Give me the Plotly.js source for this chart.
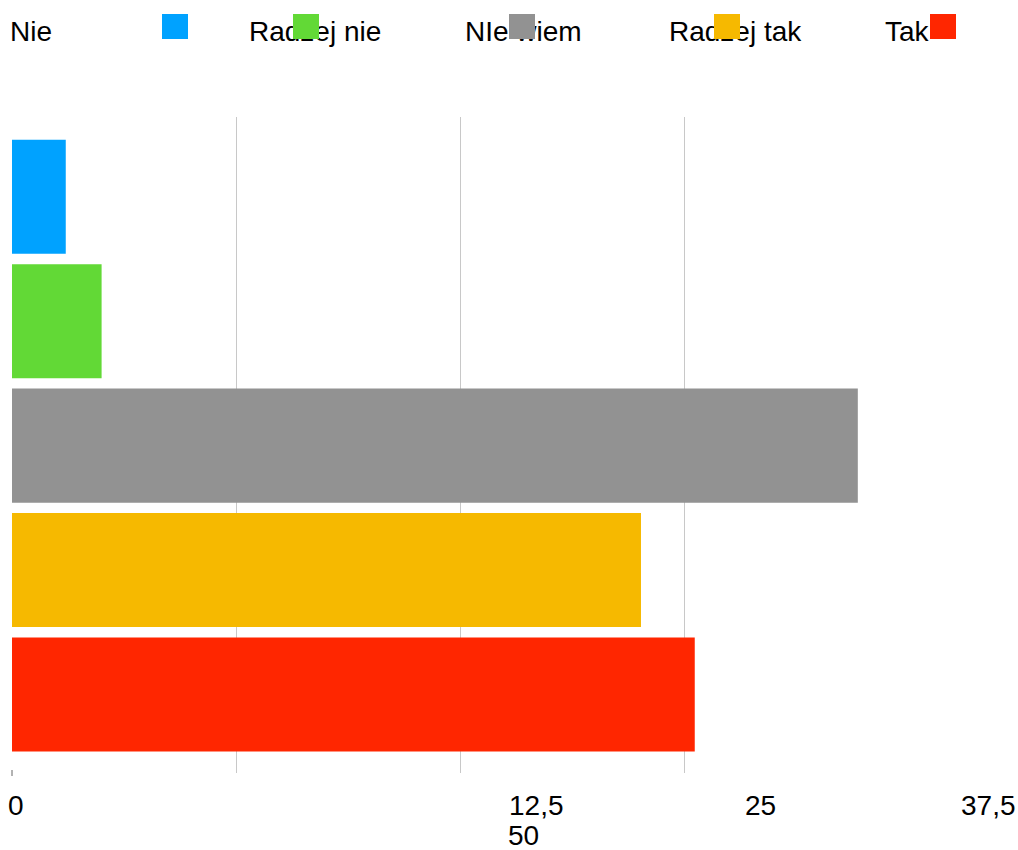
<!DOCTYPE html>
<html>
<head>
<meta charset="utf-8">
<script src="https://cdn.plot.ly/plotly-3.0.1.min.js"></script>
<style>html,body{margin:0;padding:0;background:#fff;}#chart{width:1018px;height:850px;}</style>
</head>
<body>
<div id="chart"></div>
<script>
// Data
const categories = ["Nie", "Radzej nie", "NIe wiem", "Radzej tak", "Tak"];
const values = [3.0, 5.0, 47.2, 35.1, 38.1];
const colors = ["#00a2ff", "#62d936", "#929292", "#f6b900", "#ff2600"];
const gridTicks = [12.5, 25, 37.5];
const tickLabels = ["0", "12,5", "25", "37,5", "50"];

// Layout helpers (pixel positions)
const W = 1018, H = 850;
const plotTop = 117, plotBottom = 773, plotLeft = 12;
const pxPerUnit = 224 / 12.5;
const xMax = (W - plotLeft) / pxPerUnit;
const toPY = py => (plotBottom - py) / (plotBottom - plotTop);
const toPX = px => (px - plotLeft) / (W - plotLeft);

const FONT = "Liberation Sans, Arial, sans-serif";

const trace = {
  type: "bar",
  orientation: "h",
  x: values,
  y: categories,
  marker: {color: colors, line: {width: 0}},
  hoverinfo: "x+y"
};

const annotations = [];
// legend texts and squares
const legendTextX = [8, 247, 463, 667, 883];
const legendSqX = [162, 293, 509, 714, 930];
categories.forEach((c, i) => {
  annotations.push({
    xref: "paper", yref: "paper", x: toPX(legendTextX[i]), y: toPY(31),
    xanchor: "left", yanchor: "middle", text: c, showarrow: false,
    font: {family: FONT, size: 28, color: "#000"}
  });
});
categories.forEach((c, i) => {
  annotations.push({
    xref: "paper", yref: "paper", x: toPX(legendSqX[i]), y: toPY(14),
    xanchor: "left", yanchor: "top", text: " ", showarrow: false,
    width: 26, height: 25, bgcolor: colors[i], borderpad: 0, borderwidth: 0,
    font: {size: 1}
  });
});
// tick labels (placed as in reference)
const tickPos = [[16, 805], [536, 805], [760, 805], [988, 805], [523, 835]];
tickLabels.forEach((t, i) => {
  annotations.push({
    xref: "paper", yref: "paper", x: toPX(tickPos[i][0]), y: toPY(tickPos[i][1]),
    xanchor: "center", yanchor: "middle", text: t, showarrow: false,
    font: {family: FONT, size: 28, color: "#000"}
  });
});

const layout = {
  width: W, height: H,
  margin: {l: plotLeft, r: 0, t: plotTop, b: H - plotBottom, pad: 0},
  paper_bgcolor: "#fff", plot_bgcolor: "#fff",
  showlegend: false,
  bargap: 0.084,
  xaxis: {
    range: [0, xMax], tickvals: gridTicks, showticklabels: false,
    showgrid: true, gridcolor: "#c8c8c8", gridwidth: 1,
    zeroline: false, showline: false, ticks: "", fixedrange: true
  },
  yaxis: {
    type: "category", range: [4.63, -0.64], showticklabels: false,
    showgrid: false, zeroline: false, showline: false, ticks: "", fixedrange: true
  },
  shapes: [{
    type: "line", xref: "paper", yref: "paper",
    x0: 0, x1: 0, y0: toPY(770), y1: toPY(776),
    line: {color: "#666", width: 1}
  }],
  annotations: annotations
};

Plotly.newPlot("chart", [trace], layout, {displayModeBar: false, staticPlot: true});
</script>
</body>
</html>
